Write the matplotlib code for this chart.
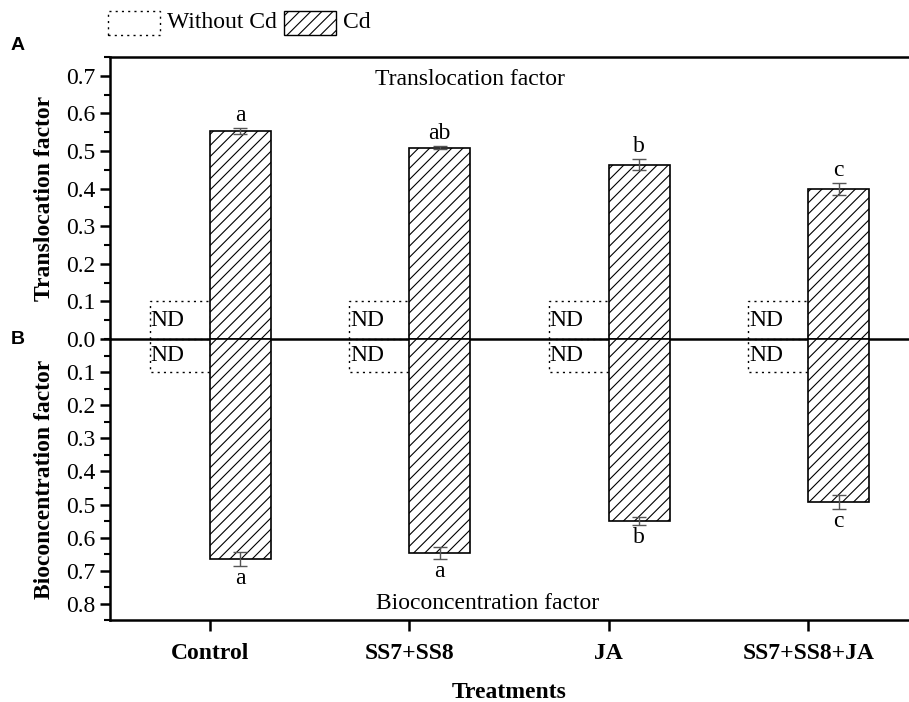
import matplotlib
matplotlib.use("Agg")
import matplotlib.pyplot as plt
import numpy as np
from matplotlib.patches import Rectangle
from matplotlib.ticker import MultipleLocator

plt.rcParams['hatch.linewidth'] = 0.8

treatments = ["Control", "SS7+SS8", "JA", "SS7+SS8+JA"]
tf_cd = [0.553, 0.509, 0.464, 0.399]
tf_err = [0.008, 0.004, 0.015, 0.015]
tf_letters = ["a", "ab", "b", "c"]
bcf_cd = [0.664, 0.647, 0.549, 0.493]
bcf_err = [0.02, 0.018, 0.012, 0.021]
bcf_letters = ["a", "a", "b", "c"]
nd_height = [0.1, 0.1, 0.1, 0.1]

serif = "Liberation Serif"
sans = "Liberation Sans"
FS = 17

fig = plt.figure(figsize=(9.09, 7.02), dpi=100)
ax1 = fig.add_axes([0.121, 0.5171, 0.878, 0.4017])
ax2 = fig.add_axes([0.121, 0.1161, 0.878, 0.4010])
ax2.patch.set_visible(False)

x = np.arange(len(treatments))
w = 0.305
ecol = "#555555"

for ax, vals, errs, letters, sign in [(ax1, tf_cd, tf_err, tf_letters, 1),
                                      (ax2, bcf_cd, bcf_err, bcf_letters, -1)]:
    ax.bar(x - 0.3, nd_height, width=0.3, align='edge', facecolor='none',
           edgecolor='black', linestyle=(0, (1.5, 3)), linewidth=1.0, zorder=2)
    ax.bar(x, vals, width=w, align='edge', facecolor='white',
           edgecolor='black', hatch='///', linewidth=1.2, zorder=3)
    ax.errorbar(x + w / 2, vals, yerr=errs, fmt='none', ecolor=ecol,
                elinewidth=1.0, capsize=5, capthick=1.0, zorder=4)
    for xi, v, e, l in zip(x, vals, errs, letters):
        ax.text(xi + w / 2, v + e + 0.006, l, ha='center',
                va='bottom' if sign > 0 else 'top',
                fontsize=FS, family=serif)
    for xi in x:
        ax.text(xi - 0.3 + 0.003, 0.05, "ND", ha='left', va='center',
                fontsize=FS, family=serif)
    ax.set_xlim(-0.5, 3.5)
    ax.spines['right'].set_visible(False)
    for s in ax.spines.values():
        s.set_linewidth(1.8)
    ax.yaxis.set_minor_locator(MultipleLocator(0.05))
    ax.tick_params(axis='y', which='major', direction='out', length=7,
                   width=1.8, labelsize=FS)
    ax.tick_params(axis='y', which='minor', direction='out', length=4,
                   width=1.5)

# top panel
ax1.set_ylim(0, 0.75)
ax1.set_yticks(np.arange(0, 0.71, 0.1))
ax1.set_yticklabels([f"{v:.1f}" for v in np.arange(0, 0.71, 0.1)],
                    family=serif, fontsize=FS)
ax1.set_xticks([])
ax1.spines['bottom'].set_visible(False)
ax1.text(1.305, 0.69, "Translocation factor", ha='center', va='center',
         fontsize=FS, family=serif)
ax1.set_ylabel("Translocation factor", fontsize=FS, fontweight='bold',
               family=serif, labelpad=8)

# bottom panel
ax2.set_ylim(0.85, 0)
ax2.set_yticks(np.arange(0.1, 0.81, 0.1))
ax2.set_yticklabels([f"{v:.1f}" for v in np.arange(0.1, 0.81, 0.1)],
                    family=serif, fontsize=FS)
ax2.spines['top'].set_visible(True)
ax2.set_xticks(x)
ax2.set_xticklabels(treatments, fontsize=FS, fontweight='bold', family=serif)
ax2.tick_params(axis='x', direction='out', length=8, width=1.8, pad=8)
ax2.text(1.39, 0.798, "Bioconcentration factor", ha='center', va='center',
         fontsize=FS, family=serif)
ax2.set_ylabel("Bioconcentration factor", fontsize=FS, fontweight='bold',
               family=serif, labelpad=8)
ax2.set_xlabel("Treatments", fontsize=FS, fontweight='bold', family=serif,
               labelpad=13)

fig.align_ylabels([ax1, ax2])

# panel letters
fig.text(0.012, 0.935, "A", fontsize=14, fontweight='bold', family=sans,
         va='center')
fig.text(0.012, 0.516, "B", fontsize=14, fontweight='bold', family=sans,
         va='center')

# legend
lx0 = 108 / 909
ly0 = 1 - 35 / 702
bw = 52 / 909
bh = 24 / 702
fig.patches.append(Rectangle((lx0, ly0), bw, bh, transform=fig.transFigure,
                             facecolor='none', edgecolor='black',
                             linestyle=(0, (1.5, 3)), linewidth=1.0))
fig.text(lx0 + bw + 0.008, ly0 + bh / 2, "Without Cd", fontsize=FS,
         family=serif, va='center')
hx0 = 284 / 909
fig.patches.append(Rectangle((hx0, ly0), bw, bh, transform=fig.transFigure,
                             facecolor='white', edgecolor='black',
                             hatch='///', linewidth=1.0))
fig.text(hx0 + bw + 0.008, ly0 + bh / 2, "Cd", fontsize=FS, family=serif,
         va='center')

fig.savefig("out.png", dpi=100)
